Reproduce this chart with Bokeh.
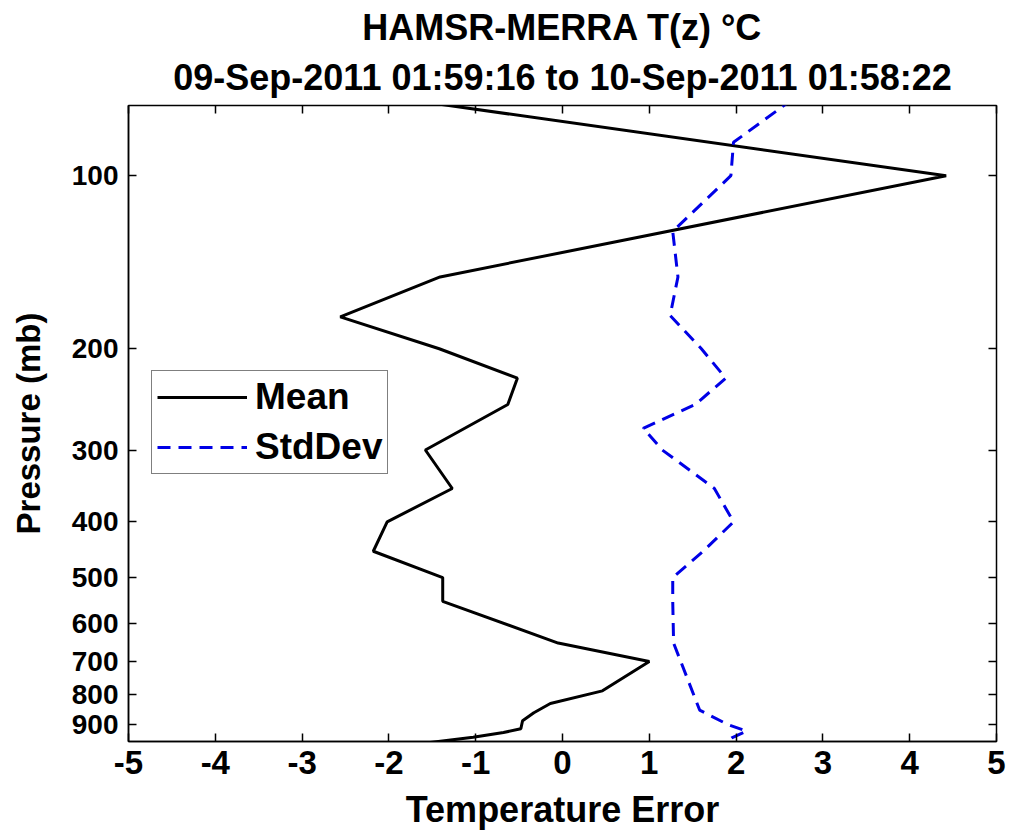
from bokeh.plotting import figure
from bokeh.models import (Range1d, FixedTicker, LinearAxis, LogAxis, Title,
                          PrintfTickFormatter, Legend, LegendItem)
from bokeh.embed import file_html
from bokeh.resources import INLINE

# ---- data ----
mean_p = [70, 100, 150, 176, 200, 225, 250, 300, 350, 400, 450, 500, 550, 650,
          700, 787, 828, 859, 887, 916, 930, 948, 975]
mean_t = [-2.85, 4.42, -1.41, -2.56, -1.42, -0.52, -0.63, -1.58, -1.27, -2.02,
          -2.18, -1.38, -1.38, -0.05, 1.0, 0.46, -0.14, -0.33, -0.46, -0.48,
          -0.68, -1.03, -1.7]

std_p = [70, 87.5, 100, 125, 150, 175, 200, 225, 250, 275, 300, 350, 400, 450,
         500, 550, 650, 850, 900, 925, 950, 975]
std_t = [2.85, 1.97, 1.94, 1.27, 1.33, 1.24, 1.6, 1.88, 1.53, 0.93, 1.15, 1.75,
         1.97, 1.62, 1.27, 1.27, 1.28, 1.58, 1.9, 2.12, 1.95, 1.85]

x_ticks = [-5, -4, -3, -2, -1, 0, 1, 2, 3, 4, 5]
y_ticks = [100, 200, 300, 400, 500, 600, 700, 800, 900]

title1 = "HAMSR-MERRA T(z) \u00b0C"
title2 = "09-Sep-2011 01:59:16 to 10-Sep-2011 01:58:22"
xlabel = "Temperature Error"
ylabel = "Pressure (mb)"

FONT = "Liberation Sans"

p = figure(width=1012, height=835, output_backend="svg", toolbar_location=None,
           y_axis_type="log", x_range=Range1d(-5, 5), y_range=Range1d(964, 75.5),
           min_border_left=128, min_border_right=16, min_border_top=105,
           min_border_bottom=94, background_fill_color="white",
           border_fill_color="white")
p.grid.visible = False
p.outline_line_color = "black"
p.outline_line_width = 1.5

r_mean = p.line(mean_t, mean_p, line_color="black", line_width=3)
r_std = p.line(std_t, std_p, line_color="#0000e6", line_width=3,
               line_dash="13 8")

# axes
xa = p.xaxis[0]
xa.ticker = FixedTicker(ticks=x_ticks)
xa.formatter = PrintfTickFormatter(format="%d")
ya = p.yaxis[0]
ya.ticker = FixedTicker(ticks=y_ticks)
ya.formatter = PrintfTickFormatter(format="%d")
for ax in (xa, ya):
    ax.major_tick_in = 8
    ax.major_tick_out = 0
    ax.minor_tick_line_color = None
    ax.major_tick_line_width = 1.5
    ax.axis_line_width = 1.5
    ax.axis_line_color = "black"
    ax.major_tick_line_color = "black"
    ax.major_label_text_font = FONT
    ax.major_label_text_font_style = "bold"
    ax.major_label_text_color = "black"
    ax.axis_label_text_font = FONT
    ax.axis_label_text_font_style = "bold"
    ax.axis_label_text_color = "black"

xa.major_label_text_font_size = "33px"
xa.major_label_standoff = 9
xa.axis_label = xlabel
xa.axis_label_text_font_size = "36px"
xa.axis_label_standoff = 12
ya.major_label_text_font_size = "28px"
ya.major_label_standoff = 10
ya.axis_label = ylabel
ya.axis_label_text_font_size = "33px"
ya.axis_label_standoff = 22

# mirrored tick axes on top and right (box with ticks)
top = LinearAxis(ticker=FixedTicker(ticks=x_ticks), major_tick_in=8,
                 major_tick_out=0, minor_tick_line_color=None,
                 major_label_text_font_size="1px", major_label_text_color=None,
                 major_label_standoff=10, axis_line_color=None,
                 major_tick_line_width=1.5, major_tick_line_color="black")
right = LogAxis(ticker=FixedTicker(ticks=y_ticks), major_tick_in=8,
                major_tick_out=0, minor_tick_line_color=None,
                major_label_text_font_size="1px", major_label_text_color=None,
                major_label_standoff=0, axis_line_color=None,
                major_tick_line_width=1.5, major_tick_line_color="black")
p.add_layout(top, "above")
p.add_layout(right, "right")

# titles (first added is closest to plot)
t2 = Title(text=title2, align="center", text_font=FONT, text_font_style="bold",
           text_font_size="36px", text_color="black", standoff=15)
t1 = Title(text=title1, align="center", text_font=FONT, text_font_style="bold",
           text_font_size="36px", text_color="black", standoff=0)
p.add_layout(t2, "above")
p.add_layout(t1, "above")

legend = Legend(items=[LegendItem(label="Mean", renderers=[r_mean]),
                       LegendItem(label="StdDev", renderers=[r_std])],
                location=(23, 267), label_text_font=FONT,
                label_text_font_style="bold", label_text_font_size="37px",
                label_text_color="black", glyph_width=90, glyph_height=36,
                label_height=36, label_standoff=8, spacing=8, padding=5,
                margin=0, border_line_color="black", border_line_width=1.5,
                background_fill_alpha=1.0)
p.add_layout(legend)

open("out.html", "w").write(file_html(p, INLINE))
